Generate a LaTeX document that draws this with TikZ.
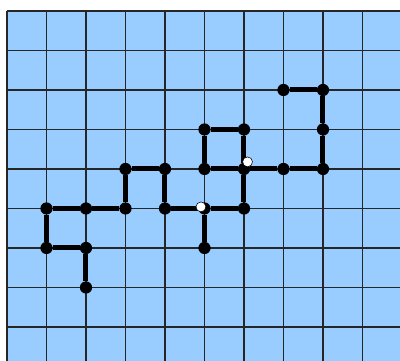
\documentclass[tikz,border=0pt]{standalone}
\usepackage{tikz}
\usetikzlibrary{calc}
\definecolor{racskek}{RGB}{153,204,255}

\begin{document}
\begin{tikzpicture}[
    pont/.style={circle, fill=black, inner sep=0pt, minimum size=0.31cm},
    elagazas/.style={circle, fill=white, draw=black, line width=0.4pt, inner sep=0pt, minimum size=0.25cm},
    lanc/.style={line width=3.6pt},
    racsvonal/.style={black!85, line width=1.1pt}]
    % Képkeret
    \useasboundingbox (-0.177,-0.861) rectangle (9.95,8.278);

    % Világoskék háttér és rács
    \fill[racskek] (0,-0.861) rectangle (9.95,8);
    \foreach \x in {0,...,9}
        \draw[racsvonal] (\x,-0.861) -- (\x,8);
    \foreach \y in {0,...,8}
        \draw[racsvonal] (0,\y) -- (9.95,\y);

    % A lánc pontjai
    \foreach \nev/\hely in {m1/{(2,1)}, m2/{(2,2)}, m3/{(1,2)}, m4/{(1,3)},
        m5/{(2,3)}, m6/{(3,3)}, m7/{(3,4)}, m8/{(4,4)}, m9/{(4,3)},
        m10/{(5,3)}, m11/{(5,2)}, m12/{(6,3)}, m13/{(6,4)}, m14/{(5,4)},
        m15/{(5,5)}, m16/{(6,5)}, m17/{(7,4)}, m18/{(8,4)}, m19/{(8,5)},
        m20/{(8,6)}, m21/{(7,6)}}
        \node[pont] (\nev) at \hely {};

    % Vastag fekete kötések
    \draw[lanc] (m1) -- (m2) -- (m3) -- (m4) -- (m5) -- (m6) -- (m7) -- (m8)
        -- (m9) -- (m10) -- (m12) -- (m13) -- (m17) -- (m18) -- (m19) -- (m20) -- (m21);
    \draw[lanc] (m10) -- (m11);
    \draw[lanc] (m13) -- (m16) -- (m15) -- (m14) -- (m13);

    % Fehér jelölők az elágazásoknál
    \node[elagazas] (e1) at ($(m10)+(-0.09,0.04)$) {};
    \node[elagazas] (e2) at ($(m13)+(0.09,0.18)$) {};

\end{tikzpicture}
\end{document}
